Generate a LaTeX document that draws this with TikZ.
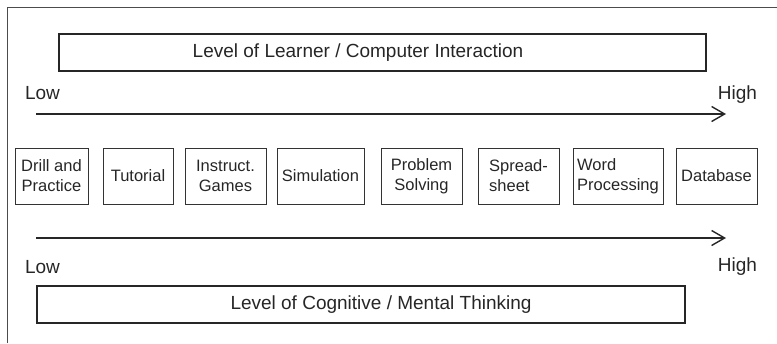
\documentclass[tikz,border=0pt]{standalone}
\usepackage{fontspec}
\setmainfont{Liberation Sans}
\usetikzlibrary{arrows.meta}
\tikzset{
	levelbox/.style={draw=black!85, line width=1.8pt, minimum height=37pt, inner sep=0pt},
	toolbox/.style={draw=black!80, line width=0.8pt, minimum height=56pt, inner sep=0pt, align=center, text=black!85, font=\fontsize{16.5}{20}\selectfont},
	bigtext/.style={text=black!85, inner sep=0pt, font=\fontsize{19}{23}\selectfont},
	scalearrow/.style={draw=black!85, line width=1.4pt, -{Straight Barb[length=13pt,width=15pt,line width=1.4pt]}}
}

\begin{document}
\begin{tikzpicture}[x=1pt, y=-1pt]
		%%%%% START %%%%%
		\useasboundingbox (0,0) rectangle (777,343);
		
		% frame
		\draw[black!70, line width=0.8pt] (7,343) -- (7,7) -- (777,7);
		
		% learner / computer interaction
		\node[levelbox, minimum width=647pt] (interbox) at (382.5,52.5) {};
		\node[bigtext] (intertext) at (358,52.5) {Level of Learner / Computer Interaction};
		
		\node[bigtext] (lowtop) at (42.5,93) {Low};
		\node[bigtext] (hightop) at (737.5,95) {High};
		\coordinate (topstart) at (36,114);
		\coordinate (topend) at (726,114);
		\draw[scalearrow] (topstart) -- (topend);
		
		% tools
		\node[toolbox, minimum width=73pt] (drill) at (51.5,176) {Drill and\\Practice};
		\node[toolbox, minimum width=70pt] (tutorial) at (138,176) {Tutorial};
		\node[toolbox, minimum width=81pt] (games) at (225.5,176) {Instruct.\\Games};
		\node[toolbox, minimum width=87pt] (simulation) at (320.5,176) {Simulation};
		\node[toolbox, minimum width=81pt] (problem) at (421.5,176) {Problem\\Solving};
		\node[toolbox, minimum width=81pt, align=left] (spread) at (518.5,176) {Spread-\\sheet\hspace{16pt}};
		\node[toolbox, minimum width=90pt, align=left] (word) at (618,176) {Word\\Processing};
		\node[toolbox, minimum width=81pt] (database) at (716.5,176) {Database};
		
		% cognitive / mental thinking
		\coordinate (botstart) at (36,238);
		\coordinate (botend) at (726,238);
		\draw[scalearrow] (botstart) -- (botend);
		\node[bigtext] (lowbot) at (42.5,267) {Low};
		\node[bigtext] (highbot) at (737.5,267) {High};
		
		\node[levelbox, minimum width=648pt] (cogbox) at (361,304.5) {};
		\node[bigtext] (cogtext) at (381,304.5) {Level of Cognitive / Mental Thinking};
		
		%%%%% END %%%%%
	\end{tikzpicture}
\end{document}
